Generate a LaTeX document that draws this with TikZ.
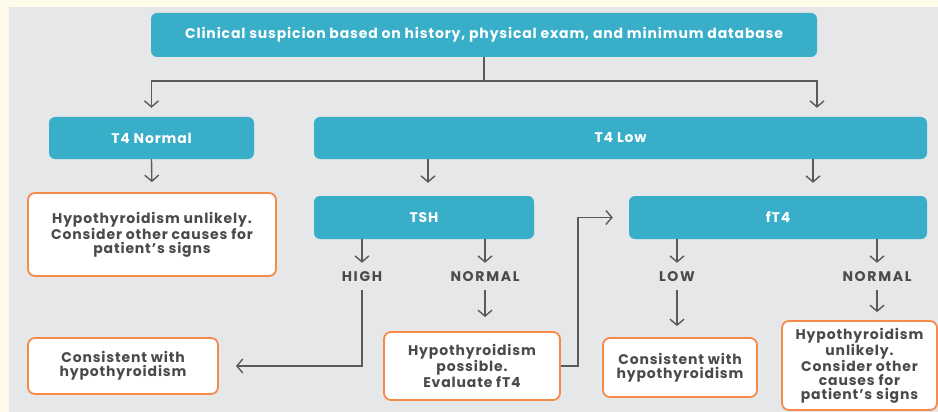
\documentclass[tikz,border=0pt]{standalone}
\usepackage{fontspec}
\setmainfont{Poppins}[LetterSpace=6]
\usetikzlibrary{arrows.meta,calc}
\definecolor{cream}{HTML}{FFFBEA}
\definecolor{panel}{HTML}{E6E7E9}
\definecolor{teal}{HTML}{38AEC8}
\definecolor{orng}{HTML}{F58A4B}
\definecolor{txt}{HTML}{4A4A4A}
\definecolor{ln}{HTML}{5A5A5A}
\begin{document}
\begin{tikzpicture}[x=1pt,y=-1pt,
  every node/.style={font=\fontsize{14}{14}\selectfont\bfseries, inner sep=0pt, align=center},
  tealbox/.style={fill=teal, text=white, rounded corners=6pt},
  orbox/.style={fill=white, draw=orng, line width=1.8pt, text=txt, rounded corners=7pt},
  lbl/.style={text=txt, minimum height=27pt, font=\fontsize{14}{14}\selectfont\bfseries\addfontfeatures{LetterSpace=12}},
  arr/.style={draw=ln, line width=1.4pt, -{Straight Barb[length=6pt,width=14pt]}},
  ln/.style={draw=ln, line width=1.4pt}]
\useasboundingbox (0,0) rectangle (938,412);
\fill[cream] (0,0) rectangle (938,412);
\fill[panel] (9,7) rectangle (938,412);

\node[tealbox, minimum width=666pt, minimum height=44pt] (top) at (484,35) {Clinical suspicion based on history, physical exam, and minimum database};
\node[tealbox, minimum width=205pt, minimum height=42pt] (t4n) at (151.5,138) {T4 Normal};
\node[tealbox, minimum width=613pt, minimum height=42pt] (t4l) at (620.5,138) {T4 Low};
\node[orbox, minimum width=248pt, minimum height=83pt] (unl1) at (152,234.5) {Hypothyroidism unlikely.\\Consider other causes for\\patient’s signs};
\node[tealbox, minimum width=220pt, minimum height=43pt] (tsh) at (424,217.5) {TSH};
\node[tealbox, minimum width=298pt, minimum height=43pt] (ft4) at (778,217.5) {fT4};
\node[lbl] (high) at (362,276.5) {HIGH};
\node[lbl] (nrm1) at (485,276.5) {NORMAL};
\node[lbl] (low) at (677,276.5) {LOW};
\node[lbl] (nrm2) at (877,276.5) {NORMAL};
\node[orbox, minimum width=190pt, minimum height=56pt] (cons1) at (123,366) {Consistent with\\hypothyroidism};
\node[orbox, minimum width=176pt, minimum height=68pt] (poss) at (472,366) {Hypothyroidism\\possible.\\Evaluate fT4};
\node[orbox, minimum width=154pt, minimum height=59pt] (cons2) at (680,367.5) {Consistent with\\hypothyroidism};
\node[orbox, minimum width=155pt, minimum height=89pt] (unl2) at (859.5,365.5) {Hypothyroidism\\unlikely.\\Consider other\\causes for\\patient’s signs};

\coordinate (j) at (top.south |- 0,81);
\draw[ln] (top.south) -- (j);
\draw[arr, shorten >=9pt] (j) -| (t4n.north);
\draw[arr, shorten >=9pt] (j) -| ($(t4l.north)+(196.5,0)$);
\draw[arr, shorten >=10pt] (t4n.south) -- (unl1.north);
\draw[arr, shorten >=13pt] ($(t4l.south)+(-192.5,0)$) -- ($(tsh.north)+(4,0)$);
\draw[arr, shorten >=13pt] ($(t4l.south)+(192.5,0)$) -- ($(ft4.north)+(35,0)$);
\draw[arr] (tsh.south -| high) -- (high.north);
\draw[arr] (tsh.south -| nrm1) -- (nrm1.north);
\draw[arr] (ft4.south -| low) -- (low.north);
\draw[arr] (ft4.south -| nrm2) -- (nrm2.north);
\draw[arr, shorten >=17pt] (high.south) |- (cons1.east);
\draw[arr, shorten >=14pt] (nrm1.south) -- (poss.north -| nrm1);
\draw[arr, shorten >=16pt] (poss.east) -- ++(17,0) |- (ft4.west);
\draw[arr, shorten >=11pt] (low.south) -- (cons2.north -| low);
\draw[arr, shorten >=8pt] (nrm2.south) -- (unl2.north -| nrm2);
\end{tikzpicture}
\end{document}
